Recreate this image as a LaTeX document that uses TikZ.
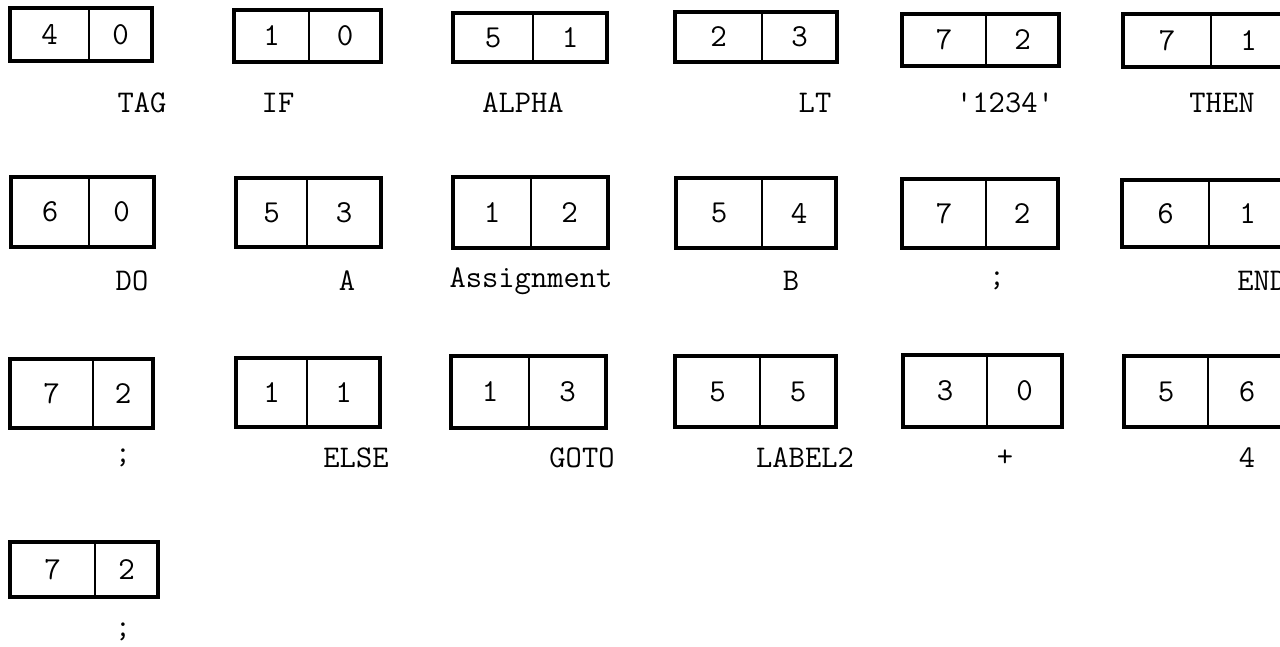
\documentclass[tikz,border=0pt]{standalone}
\usepackage{tikz}

\begin{document}
\begin{tikzpicture}[x=.5pt,y=-.5pt,line cap=round,
    cell/.style={line width=1.6pt},
    divider/.style={line width=1.1pt},
    digit/.style={font=\fontsize{16}{18}\selectfont\ttfamily},
    token/.style={font=\fontsize{15.8}{18}\selectfont\ttfamily}]
  \useasboundingbox (0,0) rectangle (1280,647);
  \clip (0,0) rectangle (1280,647);

  % code pairs: name/left/divider/right/top/bottom/class/value
  \foreach \nm/\xa/\xm/\xb/\ya/\yb/\l/\r in {
      b1/10/89/152/8/61/4/0, b2/234/309/381/10/62/1/0,
      b3/453/533/607/13/62/5/1, b4/675/762/837/12/62/2/3,
      b5/902/986/1059/14/66/7/2, b6/1123/1211/1286/14/67/7/1,
      c1/11/89/154/177/247/6/0, c2/236/307/381/178/247/5/3,
      c3/453/531/608/177/248/1/2, c4/676/762/836/178/248/5/4,
      c5/902/986/1058/179/248/7/2, c6/1122/1209/1286/180/247/6/1,
      d1/10/93/153/359/428/7/2, d2/236/307/380/358/427/1/1,
      d3/451/529/606/356/428/1/3, d4/675/760/836/356/427/5/5,
      d5/903/987/1062/355/427/3/0, d6/1124/1208/1286/356/427/5/6,
      e1/10/95/158/542/597/7/2}
  {
    \draw[cell] (\xa,\ya) rectangle (\xb,\yb);
    \draw[divider] (\xm,\ya) -- (\xm,\yb);
    \node[digit] (\nm-l) at ({(\xa+\xm)/2},{(\ya+\yb)/2}) {\l};
    \node[digit] (\nm-r) at ({(\xm+\xb)/2},{(\ya+\yb)/2}) {\r};
  }

  % token texts under the pairs
  \node[token] (tag)    at (142,103) {TAG};
  \node[token] (if)     at (278,103) {IF};
  \node[token] (alpha)  at (523,103) {ALPHA};
  \node[token] (lt)     at (815,103) {LT};
  \node[token] (str)    at (1005,103) {'1234'};
  \node[token] (then)   at (1222,103) {THEN};

  \node[token] (do)     at (132,281) {DO};
  \node[token] (a)      at (347,281) {A};
  \node[token] (assign) at (531,281) {Assignment};
  \node[token] (b)      at (791,281) {B};
  \node[token] (semi1)  at (997,281) {;};
  \node[token,anchor=west,inner sep=0pt] (end) at (1237,281) {END};

  \node[token] (semi2)  at (123,458) {;};
  \node[token] (else)   at (356,458) {ELSE};
  \node[token] (goto)   at (582,458) {GOTO};
  \node[token] (label2) at (805,458) {LABEL2};
  \node[token] (plus)   at (1005,458) {+};
  \node[token] (four)   at (1247,458) {4};

  \node[token] (semi3)  at (123,632) {;};
\end{tikzpicture}
\end{document}
